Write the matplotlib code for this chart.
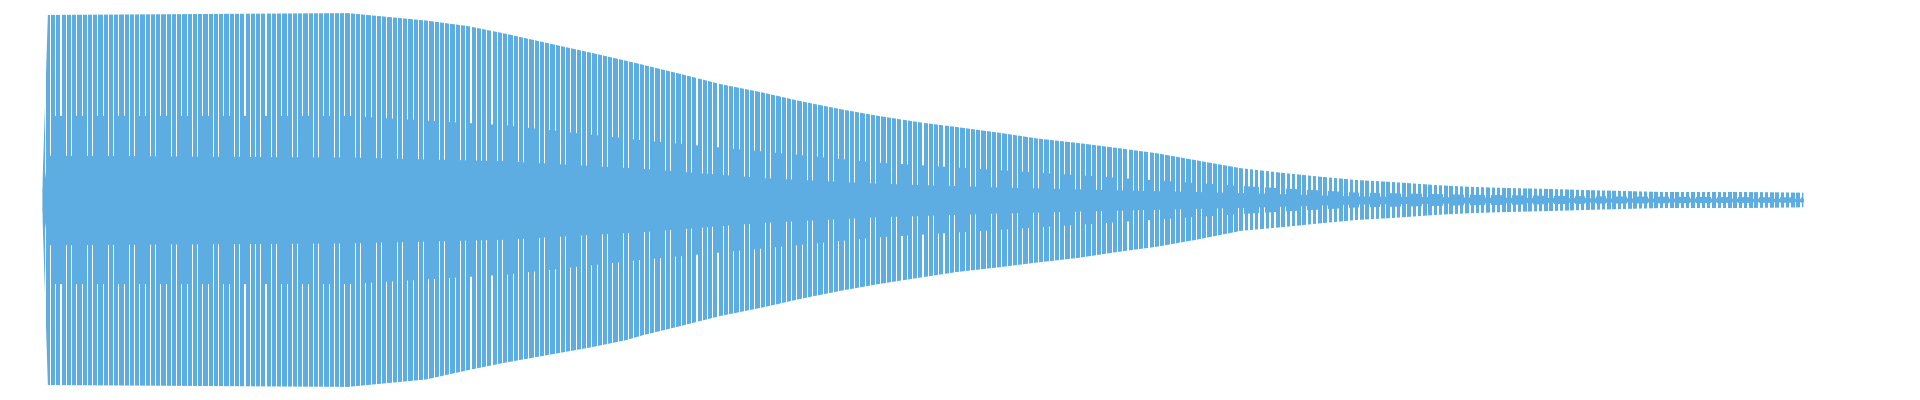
import numpy as np
import matplotlib
matplotlib.use("Agg")
import matplotlib.pyplot as plt

# waveform, x in carrier cycles, amplitude normalised to the loudest peak
n_cycles = 336
env_pos = [0, 1, 58, 73, 81, 88, 96, 104, 111, 114, 122, 129, 137, 144, 152, 159, 167, 174,
           182, 189, 197, 204, 212, 220, 228, 236, 243, 250, 257, 265, 272, 279, 287, 294,
           301, 308, 323, 330, 335]
env_top = [0.11, 0.99, 1.0, 0.96, 0.93, 0.89, 0.84, 0.79, 0.745, 0.725, 0.67, 0.62, 0.575,
           0.53, 0.485, 0.45, 0.415, 0.39, 0.36, 0.33, 0.305, 0.28, 0.25, 0.21, 0.17, 0.145,
           0.125, 0.107, 0.096, 0.08, 0.07, 0.064, 0.059, 0.053, 0.048, 0.043, 0.043, 0.041,
           0.039]
env_bottom = [0.11, 0.99, 1.0, 0.96, 0.91, 0.87, 0.83, 0.79, 0.75, 0.725, 0.67, 0.62, 0.575,
              0.53, 0.485, 0.45, 0.415, 0.385, 0.36, 0.335, 0.31, 0.28, 0.25, 0.21, 0.165,
              0.145, 0.125, 0.107, 0.096, 0.08, 0.07, 0.064, 0.059, 0.053, 0.048, 0.043,
              0.043, 0.041, 0.039]
# level the gaps reach on average, and the solid core in the middle
body_pos = [0, 1, 58, 88, 114, 137, 159, 182, 204, 228, 250, 272, 294, 318, 335]
gap_level = [0.053, 0.45, 0.45, 0.40, 0.32, 0.26, 0.20, 0.16, 0.12, 0.075, 0.04, 0.028,
             0.02, 0.016, 0.014]
core_level = [0.053, 0.24, 0.23, 0.21, 0.17, 0.12, 0.09, 0.07, 0.055, 0.04, 0.022, 0.016,
              0.012, 0.01, 0.009]

wave_color = '#5DADE2'

fig = plt.figure(figsize=(19.2, 4), dpi=100)
ax = fig.add_axes([40 / 1920, 0, 1766 / 1920, 1])
ax.set_xlim(-0.5, n_cycles - 0.5)
ax.set_ylim(-1.07, 1.07)
ax.axis('off')

cycles = np.arange(n_cycles)
bar_width = np.where(cycles < 228, 0.8, 0.66)

# outer envelope: one bar per cycle, trimmed to the envelope outline
env = ax.fill_between(env_pos, -np.array(env_bottom), env_top, facecolor='none', edgecolor='none')
bars = ax.bar(cycles, 2.2, bottom=-1.1, width=bar_width, color=wave_color,
              linewidth=0, antialiased=False)
for b in bars:
    b.set_clip_path(env.get_paths()[0], ax.transData)

# inner part: wider bars, so only some of the gaps reach this deep
mid = ax.fill_between(body_pos, -np.array(gap_level), gap_level, facecolor='none', edgecolor='none')
bars2 = ax.bar(cycles, 2.2, bottom=-1.1, width=0.9, color=wave_color,
               linewidth=0, antialiased=False)
for b in bars2:
    b.set_clip_path(mid.get_paths()[0], ax.transData)

# solid core
ax.fill_between(body_pos, -np.array(core_level), core_level, color=wave_color, linewidth=0)

fig.savefig('out.png', dpi=100, facecolor='white')
